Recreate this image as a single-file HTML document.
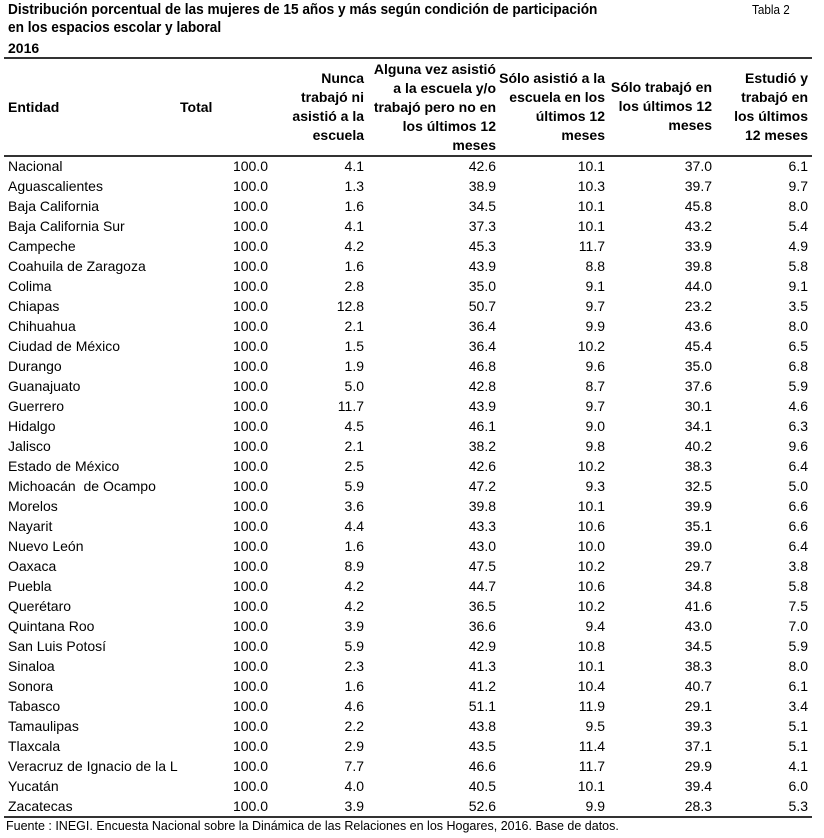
<!DOCTYPE html>
<html><head><meta charset="utf-8">
<style>
body{margin:0;width:824px;height:838px;background:#fff;position:relative;overflow:hidden;font-family:"Liberation Sans",Arial,sans-serif;color:#000}
.t{position:absolute;white-space:nowrap;font-size:14px;line-height:20px}
.b{font-weight:bold}
.hl{position:absolute;left:4px;width:808px;background:#333}
.r{position:absolute;top:0;height:20px;line-height:20px;font-size:14px;white-space:nowrap;text-align:right}
.row{position:absolute;left:0;width:824px;height:20px}
.n{left:8px;text-align:left}
.c1{right:556px}.c2{right:460px}.c3{right:328px}.c4{right:219px}.c5{right:112px}.c6{right:16px}
.h{position:absolute;font-weight:bold;font-size:14px;line-height:19px;text-align:right;white-space:nowrap;transform:scaleX(1);transform-origin:right}
</style></head><body>
<div class="t b" style="left:8px;top:0px;font-size:15px;transform:scaleX(.91);transform-origin:left">Distribución porcentual de las mujeres de 15 años y más según condición de participación</div>
<div class="t b" style="left:8px;top:18px;font-size:15px;transform:scaleX(.91);transform-origin:left">en los espacios escolar y laboral</div>
<div class="t b" style="left:8px;top:38px">2016</div>
<div class="t" style="left:752px;top:0px;font-size:13px;transform:scaleX(.9);transform-origin:left">Tabla 2</div>
<div class="hl" style="top:57px;height:2px"></div>
<div class="hl" style="top:155px;height:2px"></div>
<div class="hl" style="top:816px;height:2px"></div>

<div class="t b" style="left:8px;top:97px">Entidad</div>
<div class="t b" style="left:180px;top:97px">Total</div>
<div class="h" style="right:460px;top:69px">Nunca<br>trabajó ni<br>asistió a la<br>escuela</div>
<div class="h" style="right:328px;top:60px">Alguna vez asistió<br>a la escuela y/o<br>trabajó pero no en<br>los últimos 12<br>meses</div>
<div class="h" style="right:219px;top:69px">Sólo asistió a la<br>escuela en los<br>últimos 12<br>meses</div>
<div class="h" style="right:112px;top:78px">Sólo trabajó en<br>los últimos 12<br>meses</div>
<div class="h" style="right:16px;top:69px">Estudió y<br>trabajó en<br>los últimos<br>12 meses</div>

<div class="row" style="top:156px"><span class="r n">Nacional</span><span class="r c1">100.0</span><span class="r c2">4.1</span><span class="r c3">42.6</span><span class="r c4">10.1</span><span class="r c5">37.0</span><span class="r c6">6.1</span></div>
<div class="row" style="top:176px"><span class="r n">Aguascalientes</span><span class="r c1">100.0</span><span class="r c2">1.3</span><span class="r c3">38.9</span><span class="r c4">10.3</span><span class="r c5">39.7</span><span class="r c6">9.7</span></div>
<div class="row" style="top:196px"><span class="r n">Baja California</span><span class="r c1">100.0</span><span class="r c2">1.6</span><span class="r c3">34.5</span><span class="r c4">10.1</span><span class="r c5">45.8</span><span class="r c6">8.0</span></div>
<div class="row" style="top:216px"><span class="r n">Baja California Sur</span><span class="r c1">100.0</span><span class="r c2">4.1</span><span class="r c3">37.3</span><span class="r c4">10.1</span><span class="r c5">43.2</span><span class="r c6">5.4</span></div>
<div class="row" style="top:236px"><span class="r n">Campeche</span><span class="r c1">100.0</span><span class="r c2">4.2</span><span class="r c3">45.3</span><span class="r c4">11.7</span><span class="r c5">33.9</span><span class="r c6">4.9</span></div>
<div class="row" style="top:256px"><span class="r n">Coahuila de Zaragoza</span><span class="r c1">100.0</span><span class="r c2">1.6</span><span class="r c3">43.9</span><span class="r c4">8.8</span><span class="r c5">39.8</span><span class="r c6">5.8</span></div>
<div class="row" style="top:276px"><span class="r n">Colima</span><span class="r c1">100.0</span><span class="r c2">2.8</span><span class="r c3">35.0</span><span class="r c4">9.1</span><span class="r c5">44.0</span><span class="r c6">9.1</span></div>
<div class="row" style="top:296px"><span class="r n">Chiapas</span><span class="r c1">100.0</span><span class="r c2">12.8</span><span class="r c3">50.7</span><span class="r c4">9.7</span><span class="r c5">23.2</span><span class="r c6">3.5</span></div>
<div class="row" style="top:316px"><span class="r n">Chihuahua</span><span class="r c1">100.0</span><span class="r c2">2.1</span><span class="r c3">36.4</span><span class="r c4">9.9</span><span class="r c5">43.6</span><span class="r c6">8.0</span></div>
<div class="row" style="top:336px"><span class="r n">Ciudad de México</span><span class="r c1">100.0</span><span class="r c2">1.5</span><span class="r c3">36.4</span><span class="r c4">10.2</span><span class="r c5">45.4</span><span class="r c6">6.5</span></div>
<div class="row" style="top:356px"><span class="r n">Durango</span><span class="r c1">100.0</span><span class="r c2">1.9</span><span class="r c3">46.8</span><span class="r c4">9.6</span><span class="r c5">35.0</span><span class="r c6">6.8</span></div>
<div class="row" style="top:376px"><span class="r n">Guanajuato</span><span class="r c1">100.0</span><span class="r c2">5.0</span><span class="r c3">42.8</span><span class="r c4">8.7</span><span class="r c5">37.6</span><span class="r c6">5.9</span></div>
<div class="row" style="top:396px"><span class="r n">Guerrero</span><span class="r c1">100.0</span><span class="r c2">11.7</span><span class="r c3">43.9</span><span class="r c4">9.7</span><span class="r c5">30.1</span><span class="r c6">4.6</span></div>
<div class="row" style="top:416px"><span class="r n">Hidalgo</span><span class="r c1">100.0</span><span class="r c2">4.5</span><span class="r c3">46.1</span><span class="r c4">9.0</span><span class="r c5">34.1</span><span class="r c6">6.3</span></div>
<div class="row" style="top:436px"><span class="r n">Jalisco</span><span class="r c1">100.0</span><span class="r c2">2.1</span><span class="r c3">38.2</span><span class="r c4">9.8</span><span class="r c5">40.2</span><span class="r c6">9.6</span></div>
<div class="row" style="top:456px"><span class="r n">Estado de México</span><span class="r c1">100.0</span><span class="r c2">2.5</span><span class="r c3">42.6</span><span class="r c4">10.2</span><span class="r c5">38.3</span><span class="r c6">6.4</span></div>
<div class="row" style="top:476px"><span class="r n">Michoacán&nbsp; de Ocampo</span><span class="r c1">100.0</span><span class="r c2">5.9</span><span class="r c3">47.2</span><span class="r c4">9.3</span><span class="r c5">32.5</span><span class="r c6">5.0</span></div>
<div class="row" style="top:496px"><span class="r n">Morelos</span><span class="r c1">100.0</span><span class="r c2">3.6</span><span class="r c3">39.8</span><span class="r c4">10.1</span><span class="r c5">39.9</span><span class="r c6">6.6</span></div>
<div class="row" style="top:516px"><span class="r n">Nayarit</span><span class="r c1">100.0</span><span class="r c2">4.4</span><span class="r c3">43.3</span><span class="r c4">10.6</span><span class="r c5">35.1</span><span class="r c6">6.6</span></div>
<div class="row" style="top:536px"><span class="r n">Nuevo León</span><span class="r c1">100.0</span><span class="r c2">1.6</span><span class="r c3">43.0</span><span class="r c4">10.0</span><span class="r c5">39.0</span><span class="r c6">6.4</span></div>
<div class="row" style="top:556px"><span class="r n">Oaxaca</span><span class="r c1">100.0</span><span class="r c2">8.9</span><span class="r c3">47.5</span><span class="r c4">10.2</span><span class="r c5">29.7</span><span class="r c6">3.8</span></div>
<div class="row" style="top:576px"><span class="r n">Puebla</span><span class="r c1">100.0</span><span class="r c2">4.2</span><span class="r c3">44.7</span><span class="r c4">10.6</span><span class="r c5">34.8</span><span class="r c6">5.8</span></div>
<div class="row" style="top:596px"><span class="r n">Querétaro</span><span class="r c1">100.0</span><span class="r c2">4.2</span><span class="r c3">36.5</span><span class="r c4">10.2</span><span class="r c5">41.6</span><span class="r c6">7.5</span></div>
<div class="row" style="top:616px"><span class="r n">Quintana Roo</span><span class="r c1">100.0</span><span class="r c2">3.9</span><span class="r c3">36.6</span><span class="r c4">9.4</span><span class="r c5">43.0</span><span class="r c6">7.0</span></div>
<div class="row" style="top:636px"><span class="r n">San Luis Potosí</span><span class="r c1">100.0</span><span class="r c2">5.9</span><span class="r c3">42.9</span><span class="r c4">10.8</span><span class="r c5">34.5</span><span class="r c6">5.9</span></div>
<div class="row" style="top:656px"><span class="r n">Sinaloa</span><span class="r c1">100.0</span><span class="r c2">2.3</span><span class="r c3">41.3</span><span class="r c4">10.1</span><span class="r c5">38.3</span><span class="r c6">8.0</span></div>
<div class="row" style="top:676px"><span class="r n">Sonora</span><span class="r c1">100.0</span><span class="r c2">1.6</span><span class="r c3">41.2</span><span class="r c4">10.4</span><span class="r c5">40.7</span><span class="r c6">6.1</span></div>
<div class="row" style="top:696px"><span class="r n">Tabasco</span><span class="r c1">100.0</span><span class="r c2">4.6</span><span class="r c3">51.1</span><span class="r c4">11.9</span><span class="r c5">29.1</span><span class="r c6">3.4</span></div>
<div class="row" style="top:716px"><span class="r n">Tamaulipas</span><span class="r c1">100.0</span><span class="r c2">2.2</span><span class="r c3">43.8</span><span class="r c4">9.5</span><span class="r c5">39.3</span><span class="r c6">5.1</span></div>
<div class="row" style="top:736px"><span class="r n">Tlaxcala</span><span class="r c1">100.0</span><span class="r c2">2.9</span><span class="r c3">43.5</span><span class="r c4">11.4</span><span class="r c5">37.1</span><span class="r c6">5.1</span></div>
<div class="row" style="top:756px"><span class="r n">Veracruz de Ignacio de la L</span><span class="r c1">100.0</span><span class="r c2">7.7</span><span class="r c3">46.6</span><span class="r c4">11.7</span><span class="r c5">29.9</span><span class="r c6">4.1</span></div>
<div class="row" style="top:776px"><span class="r n">Yucatán</span><span class="r c1">100.0</span><span class="r c2">4.0</span><span class="r c3">40.5</span><span class="r c4">10.1</span><span class="r c5">39.4</span><span class="r c6">6.0</span></div>
<div class="row" style="top:796px"><span class="r n">Zacatecas</span><span class="r c1">100.0</span><span class="r c2">3.9</span><span class="r c3">52.6</span><span class="r c4">9.9</span><span class="r c5">28.3</span><span class="r c6">5.3</span></div>

<div class="t" style="left:6px;top:817px;font-size:12.5px;line-height:18px">Fuente : INEGI. Encuesta Nacional sobre la Dinámica de las Relaciones en los Hogares, 2016. Base de datos.</div>
</body></html>
